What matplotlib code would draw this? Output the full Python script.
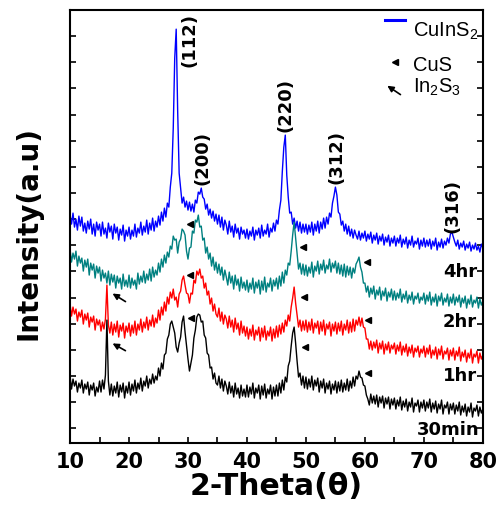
import matplotlib
matplotlib.use('Agg')
import matplotlib.pyplot as plt
import numpy as np
from matplotlib.lines import Line2D

plt.rcParams['font.family'] = 'DejaVu Sans'
plt.rcParams['font.weight'] = 'bold'
plt.rcParams['mathtext.default'] = 'regular'

# scan grid, 10-80 deg with 0.25 deg step
two_theta = np.linspace(10, 80, 281)

# intensity (a.u., stacked), 20 points = 5 deg per row
int_4hr = [
    228, 219, 230, 216, 224, 213, 227, 217, 226, 212, 220, 210, 222, 214, 224, 209, 219, 207, 221, 213,
    219, 207, 221, 209, 215, 205, 220, 211, 217, 204, 219, 210, 216, 203, 214, 208, 218, 202, 213, 207,
    216, 204, 213, 207, 219, 206, 215, 210, 221, 208, 217, 211, 223, 209, 220, 213, 225, 212, 222, 216,
    227, 218, 231, 222, 235, 226, 240, 236, 256, 270, 315, 385, 414, 332, 270, 255, 240, 246, 236, 242,
    233, 241, 232, 239, 231, 243, 240, 251, 249, 255, 246, 244, 234, 239, 228, 234, 225, 232, 222, 229,
    219, 228, 216, 226, 213, 223, 218, 209, 222, 211, 217, 206, 219, 210, 215, 204, 216, 209, 213, 205,
    214, 204, 212, 207, 216, 203, 213, 208, 215, 205, 218, 207, 213, 209, 219, 206, 215, 211, 220, 212,
    223, 219, 233, 243, 272, 296, 308, 268, 246, 230, 231, 219, 225, 215, 222, 212, 221, 210, 219, 211,
    219, 209, 218, 211, 221, 208, 219, 212, 222, 210, 221, 214, 225, 215, 226, 219, 230, 226, 240, 247,
    256, 248, 231, 229, 218, 222, 212, 219, 209, 217, 207, 214, 205, 213, 208, 204, 212, 203, 210, 205,
    212, 202, 209, 204, 211, 200, 208, 203, 210, 199, 207, 202, 209, 198, 206, 201, 208, 197, 205, 200,
    207, 197, 205, 200, 208, 196, 204, 199, 206, 195, 203, 198, 207, 196, 202, 199, 205, 194, 203, 197,
    205, 196, 203, 197, 204, 194, 202, 197, 205, 193, 201, 196, 204, 195, 202, 198, 205, 200, 209, 211,
    206, 201, 197, 203, 194, 200, 196, 202, 193, 199, 195, 201, 192, 198, 194, 200, 193, 197, 191, 199, 195,
]

int_2hr = [
    194, 181, 190, 184, 192, 177, 187, 180, 185, 172, 183, 176, 184, 168, 180, 173, 179, 165, 177, 170,
    176, 162, 173, 165, 170, 160, 172, 158, 169, 161, 168, 155, 167, 160, 165, 154, 169, 157, 163, 156,
    168, 155, 165, 158, 163, 154, 170, 159, 167, 161, 172, 160, 169, 163, 174, 162, 176, 166, 173, 168,
    180, 171, 184, 176, 188, 180, 191, 186, 197, 194, 207, 203, 204, 190, 201, 204, 214, 212, 208, 192,
    184, 195, 196, 212, 210, 223, 221, 228, 216, 217, 203, 205, 190, 196, 184, 190, 177, 186, 173, 181,
    170, 179, 168, 176, 163, 173, 166, 158, 171, 160, 167, 154, 168, 158, 164, 152, 166, 155, 161, 153,
    163, 151, 160, 154, 165, 150, 161, 155, 163, 149, 162, 153, 166, 151, 160, 156, 165, 152, 163, 157,
    165, 154, 167, 157, 171, 160, 173, 168, 180, 178, 192, 208, 221, 205, 188, 174, 180, 169, 179, 168,
    178, 167, 176, 170, 181, 166, 177, 172, 182, 169, 179, 173, 183, 170, 178, 174, 184, 171, 180, 175,
    182, 170, 180, 169, 178, 167, 179, 166, 177, 168, 176, 165, 175, 170, 179, 182, 186, 176, 171, 160,
    160, 151, 157, 146, 155, 149, 157, 144, 153, 148, 156, 143, 152, 147, 155, 142, 151, 146, 154, 143,
    152, 143, 150, 145, 154, 141, 149, 144, 152, 140, 148, 143, 151, 139, 147, 144, 150, 140, 146, 143,
    150, 139, 148, 142, 151, 138, 146, 141, 149, 137, 147, 142, 150, 138, 145, 141, 149, 137, 146, 140,
    149, 138, 146, 141, 148, 136, 145, 140, 147, 135, 144, 139, 148, 136, 143, 140, 146, 135, 144, 138, 142,
]

int_1hr = [
    139, 127, 136, 129, 134, 122, 131, 126, 133, 119, 129, 123, 130, 116, 126, 121, 127, 113, 124, 118,
    123, 112, 121, 114, 124, 158, 118, 110, 121, 108, 119, 111, 122, 106, 118, 112, 120, 105, 117, 111,
    120, 107, 118, 110, 122, 108, 119, 113, 124, 111, 121, 115, 126, 113, 123, 117, 128, 116, 125, 120,
    133, 123, 136, 128, 141, 132, 146, 139, 151, 145, 154, 143, 146, 136, 149, 152, 163, 167, 158, 150,
    149, 140, 150, 149, 163, 160, 172, 168, 174, 165, 167, 155, 160, 148, 152, 139, 145, 132, 139, 129,
    126, 135, 122, 131, 119, 128, 124, 115, 127, 116, 123, 111, 125, 114, 120, 108, 122, 110, 117, 107,
    116, 104, 114, 107, 118, 103, 113, 108, 116, 102, 115, 106, 117, 103, 112, 107, 116, 102, 114, 105,
    117, 106, 118, 109, 120, 111, 123, 117, 128, 122, 136, 145, 156, 140, 128, 116, 123, 112, 122, 113,
    123, 111, 121, 113, 124, 110, 120, 115, 122, 109, 121, 112, 123, 108, 119, 114, 121, 107, 119, 112,
    121, 109, 120, 112, 122, 108, 119, 113, 123, 110, 121, 111, 124, 112, 123, 118, 126, 117, 125, 116,
    115, 104, 104, 94, 102, 93, 101, 95, 103, 90, 100, 94, 102, 89, 99, 93, 101, 90, 98, 94,
    100, 89, 98, 92, 101, 88, 97, 91, 99, 87, 96, 90, 98, 86, 95, 91, 97, 86, 94, 90,
    97, 86, 95, 89, 98, 85, 93, 88, 96, 84, 94, 88, 97, 84, 92, 89, 95, 83, 93, 87,
    95, 83, 92, 87, 96, 82, 91, 86, 93, 81, 90, 85, 94, 80, 89, 86, 92, 80, 90, 84, 88,
]

int_30min = [
    67, 54, 64, 57, 62, 51, 60, 55, 63, 50, 59, 54, 61, 48, 58, 53, 60, 47, 56, 51,
    62, 51, 63, 54, 68, 123, 62, 48, 59, 47, 57, 50, 61, 46, 58, 51, 60, 45, 57, 50,
    61, 48, 59, 52, 63, 50, 60, 54, 65, 52, 62, 57, 67, 55, 64, 59, 69, 60, 67, 63,
    75, 67, 80, 74, 88, 90, 104, 108, 119, 122, 116, 110, 96, 91, 100, 106, 121, 127, 111, 97,
    84, 72, 80, 88, 105, 113, 126, 129, 128, 121, 122, 108, 105, 90, 88, 75, 76, 64, 70, 60,
    58, 67, 55, 64, 52, 62, 57, 49, 61, 50, 57, 46, 60, 49, 55, 45, 58, 47, 54, 46,
    58, 46, 56, 49, 60, 45, 55, 50, 58, 44, 57, 48, 59, 45, 54, 49, 58, 44, 56, 47,
    58, 47, 60, 50, 63, 53, 66, 61, 77, 82, 97, 110, 116, 100, 82, 66, 70, 58, 67, 55,
    66, 54, 64, 56, 67, 53, 63, 57, 65, 51, 62, 55, 64, 50, 60, 54, 62, 49, 59, 53,
    62, 50, 61, 52, 63, 51, 60, 53, 64, 52, 62, 55, 66, 57, 67, 64, 72, 66, 65, 58,
    57, 48, 44, 38, 49, 40, 47, 39, 48, 36, 46, 40, 47, 35, 45, 39, 46, 34, 44, 38,
    45, 34, 43, 37, 46, 33, 42, 36, 44, 32, 41, 36, 45, 31, 40, 37, 43, 31, 41, 35,
    43, 32, 41, 35, 44, 31, 40, 34, 42, 30, 39, 34, 43, 29, 38, 35, 41, 29, 39, 33,
    40, 29, 38, 32, 41, 28, 37, 31, 39, 27, 36, 31, 40, 26, 35, 32, 38, 27, 36, 30, 34,
]

series = [int_4hr, int_2hr, int_1hr, int_30min]
colors = ['#0000ff', '#008080', '#ff0000', '#000000']

# time labels (right side, under each pattern)
time_labels = ['4hr', '2hr', '1hr', '30min']
time_label_x = [79.0, 79.0, 79.0, 79.5]
time_label_y = [171, 121, 67, 13]

# CuInS2 reflections
hkl_labels = ['(112)', '(200)', '(220)', '(312)', '(316)']
hkl_x = [30.3, 32.5, 46.6, 55.1, 74.9]
hkl_y = [403, 285, 338, 286, 237]

# CuS peaks (triangles)
cus_x = [30.3, 49.5, 60.3, 30.3, 49.6, 60.5, 30.5, 49.8, 60.5]
cus_y = [219, 196, 181, 168, 146, 123, 125, 96, 70]

# In2S3 peaks (arrows): head and tail
in2s3_head = [(16.8, 151), (16.8, 101)]
in2s3_tail = [(19.8, 140), (19.8, 91)]

fig = plt.figure(figsize=(5.04, 5.08), dpi=100)
ax = fig.add_axes([0.139, 0.1285, 0.819, 0.8515])

for y, c in zip(series, colors):
    ax.plot(two_theta, y, color=c, lw=1.0)

ax.plot(cus_x, cus_y, ls='none', marker='<', ms=4.5, color='k')

for h, t in zip(in2s3_head, in2s3_tail):
    ax.annotate('', xy=h, xytext=t,
                arrowprops=dict(arrowstyle='-|>', color='k', lw=1.2, mutation_scale=9))

for lab, x, y in zip(hkl_labels, hkl_x, hkl_y):
    ax.text(x, y, lab, rotation=90, ha='center', va='center', fontsize=13, fontweight='bold')

for lab, x, y in zip(time_labels, time_label_x, time_label_y):
    ax.text(x, y, lab, ha='right', va='center', fontsize=13, fontweight='bold')

# legend drawn by hand
leg_font = dict(family='Liberation Sans', fontweight='normal', fontsize=14.5,
                transform=ax.transAxes, ha='left', va='baseline')
ax.add_line(Line2D([0.763, 0.811], [0.9769, 0.9769], color='#0000ff', lw=2.2,
                   transform=ax.transAxes))
ax.text(0.8305, 0.9376, 'CuInS$_2$', **leg_font)
ax.plot([0.787], [0.8798], marker='<', ms=4.5, color='k', transform=ax.transAxes)
ax.text(0.8305, 0.8584, 'CuS', **leg_font)
ax.annotate('', xy=(0.763, 0.8289), xytext=(0.806, 0.8012), xycoords='axes fraction',
            arrowprops=dict(arrowstyle='-|>', color='k', lw=1.2, mutation_scale=9))
ax.text(0.8305, 0.8083, 'In$_2$S$_3$', **leg_font)

ax.set_xlim(10, 80)
ax.set_ylim(0.3, 433)
ax.set_xticks(range(10, 81, 10))
ax.set_xticks(range(15, 80, 10), minor=True)
ax.set_yticks(np.arange(14.7, 420, 26.15))
ax.tick_params(axis='both', which='both', direction='in', length=4, width=1.2,
               top=False, right=True, labelleft=False, labelsize=15, pad=7)
for sp in ax.spines.values():
    sp.set_linewidth(1.5)

ax.set_xlabel('2-Theta(θ)', fontsize=21.5, fontweight='bold', va='center')
ax.xaxis.set_label_coords(0.5, -0.102)
ax.set_ylabel('Intensity(a.u)', fontsize=20, fontweight='bold', va='center')
ax.yaxis.set_label_coords(-0.1, 0.485)

plt.savefig('out.png', dpi=100)
